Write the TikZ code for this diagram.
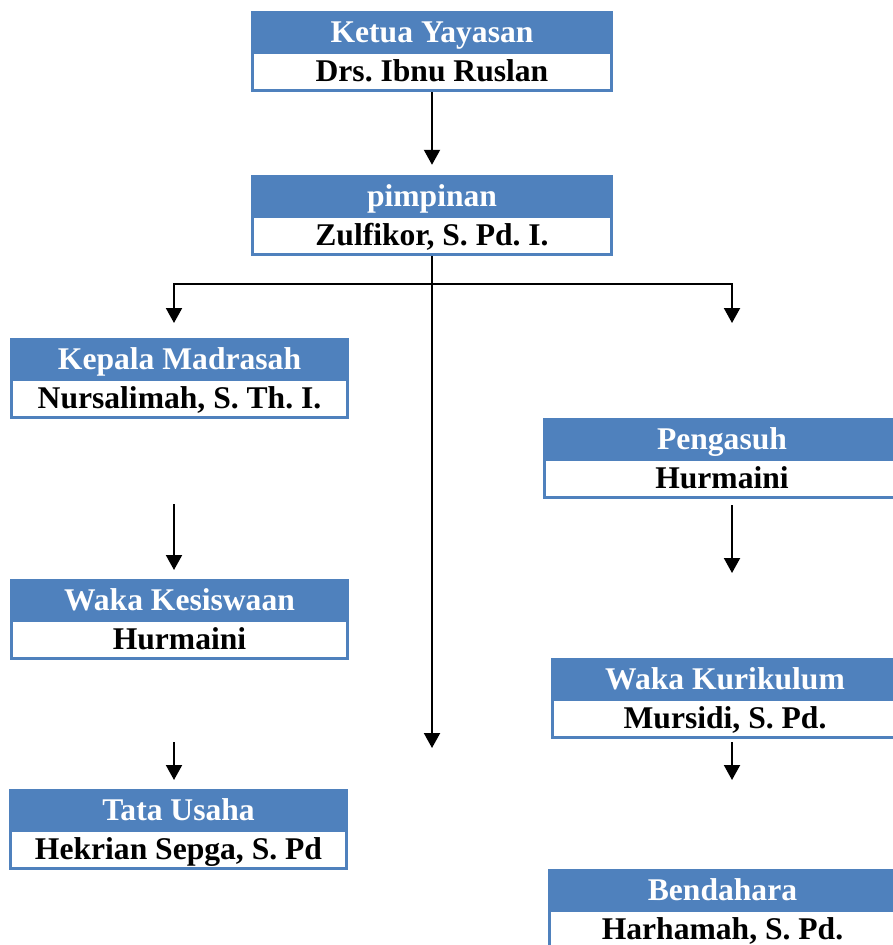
\documentclass[tikz,border=0pt]{standalone}
\usepackage{fontspec}
\setmainfont{Liberation Serif}
\usetikzlibrary{arrows.meta,calc}
\definecolor{hdrblue}{HTML}{4F81BD}
\frenchspacing
\tikzset{
  orgbox/.style={fill=hdrblue, draw=none, inner sep=0pt, minimum height=81pt},
  hdrtxt/.style={anchor=base, text=white, inner sep=0pt, font=\fontsize{31.6}{36}\selectfont\bfseries},
  nametxt/.style={anchor=base, text=black, inner sep=0pt, font=\fontsize{31.6}{36}\selectfont\bfseries},
  conn/.style={line width=2pt, draw=black},
  arr/.style={conn, -{Triangle[width=16pt,length=15pt]}},
  arrboth/.style={conn, {Triangle[width=16pt,length=15pt]}-{Triangle[width=16pt,length=15pt]}}
}
\newcommand\orgunit[6]{%
  \node[orgbox, minimum width={(#3-#2)*1pt}] (#1) at ({(#2+#3)/2},{#4+40.5}) {};
  \fill[white] ($(#1.south west)+(3pt,3pt)$) rectangle ($(#1.south east)+(-3pt,38pt)$);
  \node[hdrtxt] (#1-t) at ($(#1.north)+(0pt,-31.5pt)$) {#5};
  \node[nametxt] (#1-p) at ($(#1.north)+(0pt,-71pt)$) {#6};
}
\begin{document}
\begin{tikzpicture}[x=1pt,y=-1pt]
\clip (0,0) rectangle (893,945);
\fill[white] (0,0) rectangle (893,945);

\orgunit{ketua}{251}{613}{11}{Ketua Yayasan}{Drs. Ibnu Ruslan}
\orgunit{pimpinan}{251}{613}{175}{pimpinan}{Zulfikor, S. Pd. I.}
\orgunit{kepala}{10}{349}{338}{Kepala Madrasah}{Nursalimah, S. Th. I.}
\orgunit{pengasuh}{543}{901}{418}{Pengasuh}{Hurmaini}
\orgunit{kesiswaan}{10}{349}{579}{Waka Kesiswaan}{Hurmaini}
\orgunit{kurikulum}{551}{899}{658}{Waka Kurikulum}{Mursidi, S. Pd.}
\orgunit{tatausaha}{9}{348}{789}{Tata Usaha}{Hekrian Sepga, S. Pd}
\orgunit{bendahara}{548}{897}{869}{Bendahara}{Harhamah, S. Pd.}

% connectors
\draw[arr] (ketua.south) -- ([yshift=10pt]pimpinan.north);

\coordinate (trunkend) at (432,748);
\draw[arr] (pimpinan.south) -- (trunkend);

\coordinate (barl) at (174,284);
\coordinate (barr) at (732,284);
\coordinate (ltip) at (174,323);
\coordinate (rtip) at (732,323);
\draw[arrboth] (ltip) -- (barl) -- (barr) -- (rtip);

\coordinate (a1s) at (174,504);
\coordinate (a1e) at (174,570);
\draw[arr] (a1s) -- (a1e);

\coordinate (a2s) at (174,742);
\coordinate (a2e) at (174,780);
\draw[arr] (a2s) -- (a2e);

\coordinate (a3s) at (732,505);
\coordinate (a3e) at (732,573);
\draw[arr] (a3s) -- (a3e);

\coordinate (a4s) at (732,742);
\coordinate (a4e) at (732,780);
\draw[arr] (a4s) -- (a4e);
\end{tikzpicture}
\end{document}
